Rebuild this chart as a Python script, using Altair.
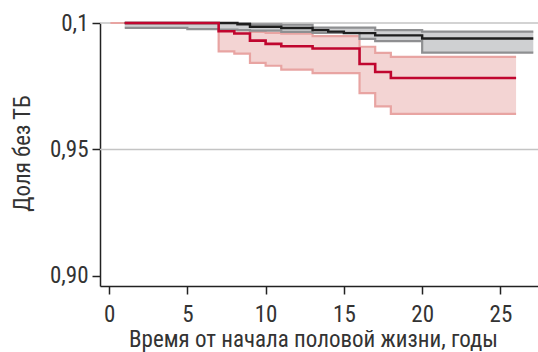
import altair as alt
import pandas as pd

# Red group (estimate + 95% CI)
red_t = [1, 7, 8, 9, 10, 11, 13, 16, 17, 18, 26]
red_s = [1.0, 0.99675, 0.99583, 0.99305, 0.99174, 0.9908, 0.9899, 0.9838, 0.98063, 0.97825, 0.97825]
red_ci_t = [0.1, 7, 8, 9, 10, 11, 13, 16, 17, 18, 26]
red_hi = [1.0, 0.9987, 0.9987, 0.9965, 0.9961, 0.9958, 0.9948, 0.9906, 0.9882, 0.9866, 0.9866]
red_lo = [1.0, 0.9888, 0.9879, 0.9842, 0.9831, 0.98155, 0.9802, 0.9723, 0.9670, 0.9641, 0.9641]

# Grey/black group (estimate + 95% CI)
blk_t = [1, 5, 7, 8.2, 9, 11, 13, 14, 15, 16, 17, 20, 27.1]
blk_s = [1.0, 1.0, 1.0, 0.9995, 0.9985, 0.9980, 0.9972, 0.9966, 0.9960, 0.9960, 0.9951, 0.99385, 0.99385]
blk_hi = [1.0, 1.0, 1.0, 1.0, 0.9995, 0.9993, 0.9982, 0.9982, 0.9982, 0.9982, 0.9972, 0.9966, 0.9966]
blk_lo = [0.9981, 0.9976, 0.9974, 0.9972, 0.9970, 0.9965, 0.9961, 0.9961, 0.9961, 0.9937, 0.9928, 0.9883, 0.9883]

grid_vals = [0.95, 1.0]
x_ticks = [0, 5, 10, 15, 20, 25]
y_ticks = [0.90, 0.95, 1.0]

red_df = pd.DataFrame({"t": red_t, "s": red_s})
red_ci = pd.DataFrame({"t": red_ci_t, "hi": red_hi, "lo": red_lo})
blk_df = pd.DataFrame({"t": blk_t, "s": blk_s, "hi": blk_hi, "lo": blk_lo})
grid_df = pd.DataFrame({"g": grid_vals})

FONT = "'Roboto Condensed', 'DejaVu Sans Condensed', 'Liberation Sans Narrow', Roboto, sans-serif"
xsc = alt.Scale(domain=[-0.58, 27.4], nice=False, zero=False)
ysc = alt.Scale(domain=[0.896, 1.0], nice=False, zero=False)

xax = alt.Axis(values=x_ticks, grid=False, title="Время от начала половой жизни, годы",
               labelFontSize=23, titleFontSize=23, labelPadding=9,
               titleX=213, titleY=60, titleBaseline="alphabetic", titleAlign="center",
               titleFontWeight="normal")
yax = alt.Axis(values=y_ticks, grid=False, title="Доля без ТБ",
               labelExpr="datum.value >= 0.999 ? '0,1' : replace(format(datum.value, '.2f'), '.', ',')",
               labelFontSize=23, titleFontSize=23, labelPadding=4,
               titleX=-78, titleY=130, titleAngle=270, titleAlign="center", titleBaseline="middle",
               titleFontWeight="normal")

X = alt.X("t:Q", scale=xsc, axis=xax)

grid = alt.Chart(grid_df).mark_rule(color="#c4c4c4", strokeWidth=1.5).encode(
    y=alt.Y("g:Q", scale=ysc, axis=yax)
)

red_band = alt.Chart(red_ci).mark_area(interpolate="step-after", color="#f3d4d3", opacity=1).encode(
    x=X, y=alt.Y("hi:Q", scale=ysc), y2="lo:Q"
)
red_hi_l = alt.Chart(red_ci).mark_line(interpolate="step-after", color="#e8a4a2", strokeWidth=2.2).encode(
    x="t:Q", y=alt.Y("hi:Q", scale=ysc)
)
red_lo_l = alt.Chart(red_ci).mark_line(interpolate="step-after", color="#e8a4a2", strokeWidth=2.2).encode(
    x="t:Q", y=alt.Y("lo:Q", scale=ysc)
)
blk_band = alt.Chart(blk_df).mark_area(interpolate="step-after", color="#cfd0d2", opacity=1).encode(
    x="t:Q", y=alt.Y("hi:Q", scale=ysc), y2="lo:Q"
)
blk_hi_l = alt.Chart(blk_df).mark_line(interpolate="step-after", color="#8e8f91", strokeWidth=2.2).encode(
    x="t:Q", y=alt.Y("hi:Q", scale=ysc)
)
blk_lo_l = alt.Chart(blk_df).mark_line(interpolate="step-after", color="#8e8f91", strokeWidth=2.2).encode(
    x="t:Q", y=alt.Y("lo:Q", scale=ysc)
)
blk_line = alt.Chart(blk_df).mark_line(interpolate="step-after", color="#1e1e1e", strokeWidth=2.4).encode(
    x="t:Q", y=alt.Y("s:Q", scale=ysc)
)
red_line = alt.Chart(red_df).mark_line(interpolate="step-after", color="#c0062f", strokeWidth=2.6).encode(
    x="t:Q", y=alt.Y("s:Q", scale=ysc)
)

chart = alt.layer(
    grid, red_band, red_hi_l, red_lo_l, blk_band, blk_hi_l, blk_lo_l, blk_line, red_line
).properties(
    width=438, height=263,
    autosize=alt.AutoSizeParams(type="none"),
    padding={"left": 100, "top": 23, "right": 0, "bottom": 66},
).configure_view(stroke=None).configure_axis(
    domainColor="#222222", tickColor="#222222", domainWidth=1.5, tickWidth=1.5, tickSize=8,
    labelColor="#333333", titleColor="#333333", labelFont=FONT, titleFont=FONT
)

chart.save("out.html", embed_options={"renderer": "svg", "actions": False})
